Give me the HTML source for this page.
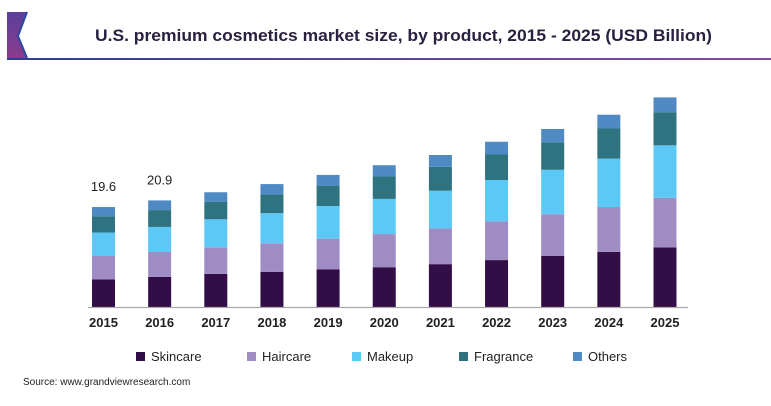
<!DOCTYPE html>
<html><head><meta charset="utf-8"><style>
body{margin:0;width:771px;height:401px;background:#fff;overflow:hidden;font-family:"Liberation Sans",sans-serif}
</style></head><body>
<svg width="771" height="401">
<defs><linearGradient id="lg" x1="0" x2="1"><stop offset="0" stop-color="#2c3f8f"/><stop offset="1" stop-color="#8a4aa0"/></linearGradient>
<linearGradient id="pg" x1="0" y1="0" x2="0" y2="1"><stop offset="0" stop-color="#5a3f9a"/><stop offset="1" stop-color="#8a3c8c"/></linearGradient></defs>
<g>
<polygon points="7,12 27,12 18,36 27,58 7,58" fill="url(#pg)"/>
<polyline points="27,12 18,36 27,58" fill="none" stroke="#2a4aa0" stroke-width="2"/>
</g>
<rect x="7" y="58" width="764" height="2" fill="url(#lg)"/>
<text x="95" y="41" textLength="617" lengthAdjust="spacingAndGlyphs" font-size="17" font-weight="bold" fill="#2a2140">U.S. premium cosmetics market size, by product, 2015 - 2025 (USD Billion)</text>
<g id="bars"></g>
<line x1="88" x2="688" y1="307.5" y2="307.5" stroke="#aaa" stroke-width="1.2"/>
<g id="legend"></g>
<text x="23" y="385" font-size="10" fill="#222">Source: www.grandviewresearch.com</text>
</svg>
<script>
const years=["2015","2016","2017","2018","2019","2020","2021","2022","2023","2024","2025"];
const seriesNames=["Skincare","Haircare","Makeup","Fragrance","Others"];
const skincare=[5.4,5.9,6.5,6.9,7.4,7.8,8.4,9.2,10.0,10.8,11.7];
const haircare=[4.6,4.9,5.2,5.6,6.0,6.5,7.0,7.6,8.2,8.8,9.7];
const makeup=[4.6,4.9,5.5,5.9,6.4,6.9,7.4,8.1,8.7,9.5,10.3];
const fragrance=[3.2,3.3,3.4,3.7,4.0,4.4,4.7,5.0,5.4,5.9,6.5];
const others=[1.8,1.9,1.9,2.0,2.1,2.2,2.3,2.5,2.6,2.7,2.9];
const valueLabels=["19.6","20.9"];
const colors=["#330d45","#a08cc4","#5bc8f5","#2f7380","#4f8ac4"];
const series=[skincare,haircare,makeup,fragrance,others];
const NS="http://www.w3.org/2000/svg";
const base=307,scale=5.1,x0=103.5,step=56.15,bw=23;
const y=v=>v*scale, x=i=>x0+i*step;
const g=document.getElementById('bars');
function mk(t,a,p){const e=document.createElementNS(NS,t);for(const k in a)e.setAttribute(k,a[k]);p.appendChild(e);return e;}
years.forEach((yr,i)=>{
  let acc=0;
  series.forEach((s,j)=>{
    const h=y(s[i]);
    const r=mk('rect',{x:x(i)-bw/2,y:base-y(acc)-h,width:bw,height:h,fill:colors[j]},g);
    
    
    acc+=s[i];
  });
  const t=mk('text',{x:x(i),y:327,'text-anchor':'middle','font-size':13,'font-weight':'bold',fill:'#222'},g);
  t.textContent=yr;
  
  
  if(i<valueLabels.length){
    const v=mk('text',{x:x(i),y:base-y(acc)-16,'text-anchor':'middle','font-size':13,fill:'#222'},g);
    v.textContent=valueLabels[i];
    
    
  }
});
const lg=document.getElementById('legend');
const lx=[136,247,352,459,573];
seriesNames.forEach((n,j)=>{
  const gg=mk('g',{},lg);
  
  
  mk('rect',{x:lx[j],y:352,width:9,height:9,fill:colors[j]},gg);
  const t=mk('text',{x:lx[j]+15,y:361,'font-size':13,fill:'#222'},gg);
  t.textContent=n;
});
</script>
</body></html>
